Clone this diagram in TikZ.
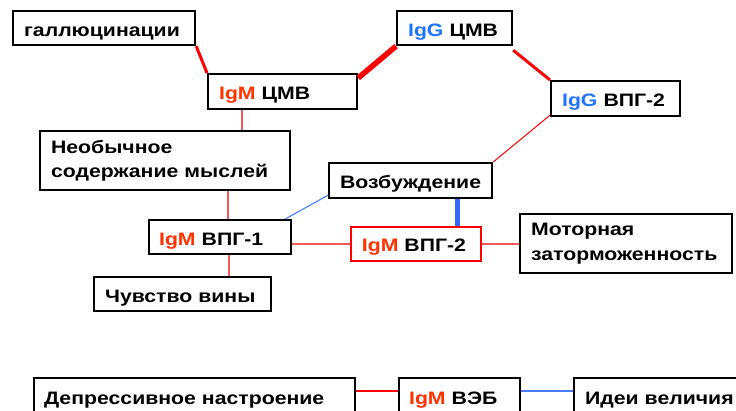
\documentclass[tikz,border=0pt]{standalone}
\usepackage{fontspec}
\setmainfont{Liberation Sans}[FakeStretch=1.18]
\usetikzlibrary{calc}
\definecolor{igm}{HTML}{FF3300}
\definecolor{igg}{HTML}{1E73FF}
\definecolor{redln}{HTML}{FF0000}
\definecolor{lightred}{HTML}{F25A5A}
\definecolor{blueln}{HTML}{4A7BFF}
\definecolor{bluethick}{HTML}{3366FF}
\tikzset{
  box/.style={draw=black, line width=2.2pt, anchor=north west, inner xsep=11pt,
    inner ysep=0pt, align=left, fill=white,
    font=\fontsize{18}{24.5}\selectfont\bfseries},
  oneline/.style={box, text height=16pt, text depth=0pt},
  boxred/.style={oneline, draw=redln, line width=1.8pt},
  thin red/.style={draw=lightred, line width=1.2pt},
  thin blue/.style={draw=blueln, line width=1.1pt},
}
\newcommand\IgM{\textcolor{igm}{IgM}}
\newcommand\IgG{\textcolor{igg}{IgG}}
\begin{document}
\begin{tikzpicture}[x=1pt, y=-1pt]
\useasboundingbox (0,0) rectangle (736,410);
\clip (0,0) rectangle (736,410);

% boxes
\node[oneline, minimum width=182pt, text width=160pt, minimum height=34pt] (hall) at (12,10) {галлюцинации};
\node[oneline, minimum width=149pt, text width=127pt, minimum height=35pt] (igmcmv) at (207,73) {\IgM\ ЦМВ};
\node[oneline, minimum width=115pt, text width=93pt, minimum height=34pt] (iggcmv) at (396,10) {\IgG\ ЦМВ};
\node[oneline, minimum width=129pt, text width=107pt, minimum height=35pt] (iggvpg) at (550,80) {\IgG\ ВПГ-2};
\node[box, minimum width=250pt, text width=228pt, minimum height=59pt] (neob) at (39,130) {Необычное\\содержание мыслей};
\node[oneline, minimum width=163pt, text width=141pt, minimum height=35pt] (vozb) at (328,162) {Возбуждение};
\node[oneline, minimum width=142pt, text width=122pt, minimum height=34pt, inner xsep=10pt] (vpgone) at (148,219) {\IgM\ ВПГ-1};
\node[boxred, minimum width=130pt, text width=108pt, minimum height=34pt] (vpgtwo) at (350,226) {\IgM\ ВПГ-2};
\node[box, minimum width=212pt, text width=190pt, minimum height=59pt] (motor) at (519,213) {Моторная\\заторможенность};
\node[oneline, minimum width=177pt, text width=155pt, minimum height=34pt] (chuv) at (93,276) {Чувство вины};
\node[oneline, minimum width=321pt, text width=301pt, minimum height=37pt, inner xsep=10pt] (depr) at (33,377) {Депрессивное настроение};
\node[oneline, minimum width=121pt, text width=101pt, minimum height=37pt, inner xsep=10pt] (veb) at (398,377) {\IgM\ ВЭБ};
\node[oneline, minimum width=192pt, text width=170pt, minimum height=37pt] (idei) at (573,377) {Идеи величия};

% connectors
\draw[redln, line width=3pt] (hall.south east) -- (igmcmv.north west);
\draw[redln, line width=5.5pt] ($(igmcmv.north east)+(0,5)$) -- (iggcmv.south west);
\draw[redln, line width=3pt] ($(iggcmv.south east)+(0,4)$) -- (iggvpg.north west);
\draw[redln, line width=1pt] ($(iggvpg.south west)+(0,-2)$) -- (vozb.north east);
\draw[thin red] (igmcmv.south -| 242,0) -- (neob.north -| 242,0);
\draw[thin red] (neob.south -| 228,0) -- (vpgone.north -| 228,0);
\draw[thin red] (vpgone.south -| 229,0) -- (chuv.north -| 229,0);
\draw[thin blue] ($(vozb.south west)+(0,-4)$) -- ($(vpgone.north east)+(-7,0)$);
\draw[bluethick, line width=5pt] (vozb.south -| 457,0) -- (vpgtwo.north -| 457,0);
\draw[thin red] (vpgone.east |- vpgtwo.west) -- (vpgtwo.west);
\draw[thin red] (vpgtwo.east) -- (motor.west |- vpgtwo.east);
\draw[redln, line width=1.1pt] (depr.east |- 0,391) -- (veb.west |- 0,391);
\draw[thin blue] (veb.east |- 0,391) -- (idei.west |- 0,391);
\end{tikzpicture}
\end{document}
